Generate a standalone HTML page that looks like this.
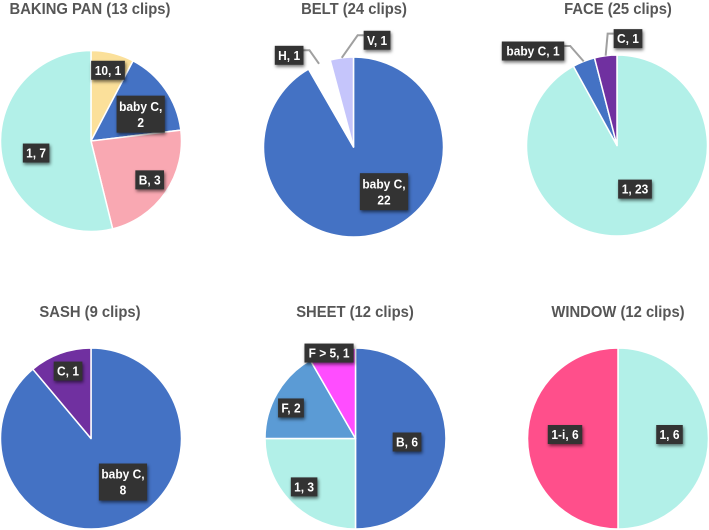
<!DOCTYPE html>
<html lang="en">
<head>
<meta charset="utf-8">
<title>Clips by category pie charts</title>
<style>
  html, body { margin: 0; padding: 0; background: #ffffff; }
  svg { display: block; font-family: "Liberation Sans", Arial, sans-serif; }
  .chart-title { font-size: 16px; font-weight: 700; fill: #565656; text-anchor: middle; }
  .label-text { font-size: 13px; font-weight: 700; fill: #ffffff; text-anchor: middle; }
  .label-group { filter: drop-shadow(1.5px 2px 1.5px rgba(0,0,0,.55)); }
  #figure { filter: blur(0.35px); }
</style>
</head>
<body>
<svg id="figure" width="709" height="530" viewBox="0 0 709 530" xmlns="http://www.w3.org/2000/svg">
  <rect x="0" y="0" width="709" height="530" fill="#ffffff"/>
  <g id="baking-pan">
    <text class="chart-title" x="90" y="14">BAKING PAN (13 clips)</text>
  </g>
  <g id="belt">
    <text class="chart-title" x="354" y="14">BELT (24 clips)</text>
  </g>
  <g id="face">
    <text class="chart-title" x="618" y="14">FACE (25 clips)</text>
  </g>
  <g id="sash">
    <text class="chart-title" x="90" y="317">SASH (9 clips)</text>
  </g>
  <g id="sheet">
    <text class="chart-title" x="355" y="317">SHEET (12 clips)</text>
  </g>
  <g id="window">
    <text class="chart-title" x="618" y="317">WINDOW (12 clips)</text>
  </g>
</svg>
<script>
// Data: categories and values, clockwise from 12 o'clock
const bakingPanCategories = ['10', 'baby C', 'B', '1'];
const bakingPanValues = [1, 2, 3, 7];
const beltCategories = ['baby C', 'H', 'V'];
const beltValues = [22, 1, 1];
const faceCategories = ['1', 'baby C', 'C'];
const faceValues = [23, 1, 1];
const sashCategories = ['baby C', 'C'];
const sashValues = [8, 1];
const sheetCategories = ['B', '1', 'F', 'F > 5'];
const sheetValues = [6, 3, 2, 1];
const windowCategories = ['1', '1-i'];
const windowValues = [6, 6];

// Styling: colour per category
const categoryColors = {
  '1': '#B2F0E8', '10': '#FBE09A', 'baby C': '#4472C4', 'B': '#4472C4',
  'H': '#FFFFFF', 'V': '#C5C5FB', 'C': '#7030A0', 'F': '#5B9BD5',
  'F > 5': '#FF4DFF', '1-i': '#FF4F8B'
};
const bakingPanColorOverrides = { 'B': '#F9A8B2' };

// Layout: pie placement and label nudges away from the default anchor
const charts = [
  { id: 'baking-pan', cx: 91, cy: 141, r: 90.5, categories: bakingPanCategories, values: bakingPanValues, colors: bakingPanColorOverrides,
    nudges: [[4, -18], [5, 4], [14, 8], [-1, 5.5]], wrapped: ['baby C'], leaders: [] },
  { id: 'belt', cx: 353.5, cy: 147, r: 90, categories: beltCategories, values: beltValues, colors: {},
    nudges: [[16.5, -7.5], [-43.7, -41.8], [30.6, -53.2]], wrapped: ['baby C'], leaders: ['H', 'V'] },
  { id: 'face', cx: 617, cy: 145.5, r: 90.5, categories: faceCategories, values: faceValues, colors: {},
    nudges: [[4.5, -9], [-64, -44], [17.8, -53]], wrapped: [], leaders: ['baby C', 'C'] },
  { id: 'sash', cx: 91, cy: 438.5, r: 90.5, categories: sashCategories, values: sashValues, colors: {},
    nudges: [[13.4, -7.5], [-4.4, -16.4]], wrapped: ['baby C'], leaders: [] },
  { id: 'sheet', cx: 355.5, cy: 438.5, r: 90.5, categories: sheetCategories, values: sheetValues, colors: {},
    nudges: [[-2.8, 3.5], [-13, 10], [-17.5, -3.4], [-12.4, -33]], wrapped: [], leaders: [] },
  { id: 'window', cx: 618, cy: 438.5, r: 90.5, categories: windowCategories, values: windowValues, colors: {},
    nudges: [[-2.8, -4], [1.3, -4]], wrapped: [], leaders: [] }
];

const SVG_NS = 'http://www.w3.org/2000/svg';
const LABEL_RADIUS = 0.6;
const LINE_HEIGHT = 16;
const BOX_SINGLE_HEIGHT = 19;
const LABEL_CONDENSE = 0.92;
const TITLE_CONDENSE = 0.925;

function condense(textEl, factor) {
  const natural = textEl.getComputedTextLength();
  textEl.setAttribute('textLength', natural * factor);
  textEl.setAttribute('lengthAdjust', 'spacingAndGlyphs');
  return natural * factor;
}

function polar(chart, fraction, radius) {
  const a = fraction * 2 * Math.PI;
  return { x: chart.cx + radius * Math.sin(a), y: chart.cy - radius * Math.cos(a) };
}

function slicePath(chart, start, end) {
  const p0 = polar(chart, start, chart.r);
  const p1 = polar(chart, end, chart.r);
  const large = end - start > 0.5 ? 1 : 0;
  return 'M' + chart.cx + ' ' + chart.cy + 'L' + p0.x + ' ' + p0.y +
    'A' + chart.r + ' ' + chart.r + ' 0 ' + large + ' 1 ' + p1.x + ' ' + p1.y + 'Z';
}

function slug(text) {
  return text.toLowerCase().replace(/[^a-z0-9]+/g, '-').replace(/^-|-$/g, '');
}

function drawChart(chart) {
  const group = document.getElementById(chart.id);
  const total = chart.values.reduce(function (a, b) { return a + b; }, 0);
  const overlays = [];
  let acc = 0;

  chart.values.forEach(function (value, i) {
    const category = chart.categories[i];
    const start = acc / total;
    acc += value;
    const end = acc / total;
    const mid = (start + end) / 2;

    const path = document.createElementNS(SVG_NS, 'path');
    path.setAttribute('d', slicePath(chart, start, end));
    path.setAttribute('fill', chart.colors[category] || categoryColors[category]);
    path.setAttribute('stroke', '#ffffff');
    path.setAttribute('stroke-width', '1.5');
    path.setAttribute('stroke-linejoin', 'round');
    
    
    group.appendChild(path);

    overlays.push({ category: category, value: value, mid: mid, nudge: chart.nudges[i] });
  });

  overlays.forEach(function (item) {
    const anchor = polar(chart, item.mid, chart.r * LABEL_RADIUS);
    const lx = anchor.x + item.nudge[0];
    const ly = anchor.y + item.nudge[1];
    const wrap = chart.wrapped.indexOf(item.category) !== -1;
    const lines = wrap ? [item.category + ',', String(item.value)] : [item.category + ', ' + item.value];

    let leader = null;
    if (chart.leaders.indexOf(item.category) !== -1) {
      leader = document.createElementNS(SVG_NS, 'polyline');
      leader.setAttribute('fill', 'none');
      leader.setAttribute('stroke', '#A0A0A0');
      leader.setAttribute('stroke-width', '2');
      
      
      group.appendChild(leader);
    }

    const labelGroup = document.createElementNS(SVG_NS, 'g');
    labelGroup.setAttribute('class', 'label-group');
    
    
    group.appendChild(labelGroup);

    const box = document.createElementNS(SVG_NS, 'rect');
    box.setAttribute('fill', '#333333');
    
    
    labelGroup.appendChild(box);

    const blockTop = ly - (lines.length - 1) * LINE_HEIGHT / 2;
    let textWidth = 0;
    lines.forEach(function (line, n) {
      const t = document.createElementNS(SVG_NS, 'text');
      t.setAttribute('class', 'label-text');
      t.setAttribute('x', lx);
      t.setAttribute('y', blockTop + n * LINE_HEIGHT + 4.6);
      
      
      t.textContent = line;
      labelGroup.appendChild(t);
      textWidth = Math.max(textWidth, condense(t, LABEL_CONDENSE));
    });

    const width = wrap ? textWidth + 5 : textWidth * 1.08 + 5;
    const height = BOX_SINGLE_HEIGHT + (lines.length - 1) * (LINE_HEIGHT + 2);
    box.setAttribute('x', lx - width / 2);
    box.setAttribute('y', ly - height / 2);
    box.setAttribute('width', width);
    box.setAttribute('height', height);

    if (leader) {
      const tip = polar(chart, item.mid, chart.r);
      const side = tip.x > lx ? 1 : -1;
      const startX = lx + side * width / 2;
      const startY = ly - 5;
      leader.setAttribute('points',
        startX + ',' + startY + ' ' + (startX + side * 6) + ',' + startY + ' ' + tip.x + ',' + tip.y);
    }
  });
}

charts.forEach(drawChart);
document.querySelectorAll('.chart-title').forEach(function (title) {
  condense(title, TITLE_CONDENSE);
});
</script>
</body>
</html>
